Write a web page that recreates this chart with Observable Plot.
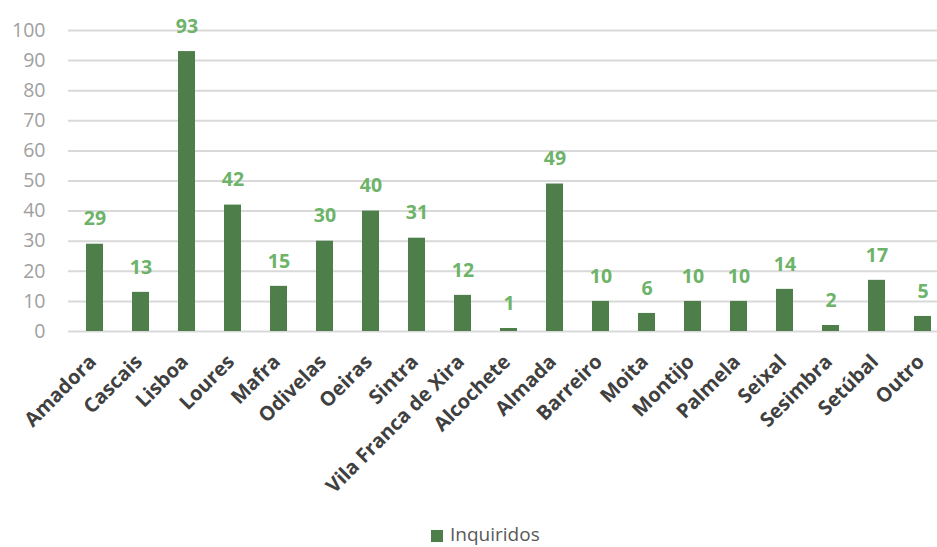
<!DOCTYPE html>
<html>
<head>
<meta charset="utf-8">
<script src="https://cdn.jsdelivr.net/npm/d3@7"></script>
<script src="https://cdn.jsdelivr.net/npm/@observablehq/plot@0.6"></script>
<style>
  body { margin: 0; background: #fff; font-family: "Open Sans", Lato, sans-serif; }
  #legend { height: 32px; position: relative; }
  #legend .sw { position: absolute; left: 431px; top: 15px; width: 12px; height: 12px; background: #4e7f4b; }
  #legend .lb { position: absolute; left: 450px; top: 6px; font-size: 19px; color: #595959; line-height: 26px; }
</style>
</head>
<body>
<div id="chart"></div>
<div id="legend"><span class="sw"></span><span class="lb">Inquiridos</span></div>
<script>
const categories = ["Amadora","Cascais","Lisboa","Loures","Mafra","Odivelas","Oeiras","Sintra","Vila Franca de Xira","Alcochete","Almada","Barreiro","Moita","Montijo","Palmela","Seixal","Sesimbra","Setúbal","Outro"];
const values = [29,13,93,42,15,30,40,31,12,1,49,10,6,10,10,14,2,17,5];
const yTicks = [0,10,20,30,40,50,60,70,80,90,100];
const seriesName = "Inquiridos";

const data = categories.map((c, i) => ({category: c, value: values[i]}));

const chart = Plot.plot({
  width: 937,
  height: 515,
  marginLeft: 68,
  marginRight: 0,
  marginTop: 30,
  marginBottom: 184,
  style: {fontFamily: "'Open Sans', Lato, sans-serif", background: "#fff"},
  x: {domain: categories, range: [68, 947.7], paddingInner: 0.64, paddingOuter: 0.32, axis: null},
  y: {domain: [0, 100], axis: null},
  marks: [
    Plot.ruleY(yTicks, {stroke: "#d9d9d9", strokeWidth: 2}),
    Plot.text(yTicks, {x: null, y: d => d, frameAnchor: "left", text: d => String(d), textAnchor: "end", dx: -23, fontSize: 19.5, fill: "#a0a0a0"}),
    Plot.barY(data, {x: "category", y: "value", fill: "#4e7f4b"}),
    Plot.text(data, {x: "category", y: "value", text: d => String(d.value), dy: -25, fontSize: 19.5, fontWeight: "bold", fill: "#6db369"}),
    Plot.text(categories, {x: d => d, y: () => 0, text: d => d, rotate: -45, textAnchor: "end", lineAnchor: "middle", dx: -2, dy: 27, fontSize: 20, fontWeight: "bold", fill: "#404040"})
  ]
});
document.getElementById("chart").appendChild(chart);
</script>
</body>
</html>
